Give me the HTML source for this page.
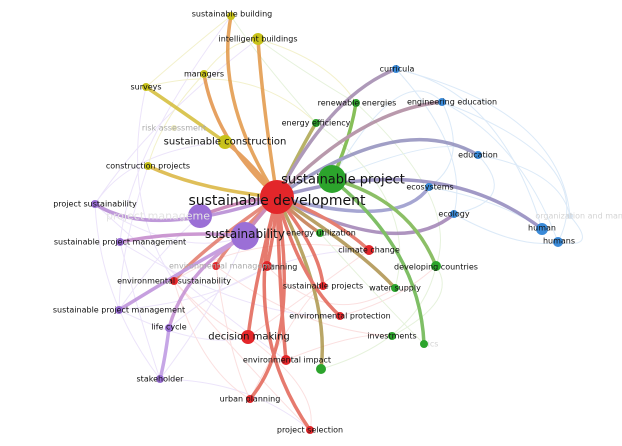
<!DOCTYPE html>
<html><head><meta charset="utf-8"><style>
html,body{margin:0;padding:0;background:#fff;width:622px;height:446px;overflow:hidden}
svg text{font-family:"DejaVu Sans","Liberation Sans",sans-serif;fill:#111;text-anchor:middle;dominant-baseline:central}
</style></head><body>
<svg width="622" height="446" viewBox="0 0 622 446" xmlns="http://www.w3.org/2000/svg">
<g fill="none" stroke-linecap="round">
<!-- faint background web -->
<g stroke="#ece4fa" stroke-width="1">
<path d="M95 204 Q150 120 258 39"/><path d="M120 242 Q130 150 231 16"/><path d="M119 310 Q200 350 248 337"/>
<path d="M160 379 Q250 380 310 430"/><path d="M174 281 Q120 200 146 87"/><path d="M95 204 Q200 300 286 360"/>
<path d="M120 242 Q250 320 340 316"/><path d="M169 328 Q260 250 369 250"/>
<path d="M95 204 Q100 300 160 379"/><path d="M119 310 Q160 250 200 216"/><path d="M120 242 Q140 320 160 379"/>
<path d="M95 204 Q180 260 245 236"/><path d="M119 310 Q220 300 267 266"/><path d="M160 379 Q220 300 245 236"/>
<path d="M148 166 Q120 250 119 310"/><path d="M95 204 Q130 150 225 142"/>
</g>
<g stroke="#dceaf8" stroke-width="1">
<path d="M396 69 Q500 90 542 229"/><path d="M442 102 Q520 140 558 242"/><path d="M478 155 Q560 170 570 216"/>
<path d="M429 187 Q500 200 542 229"/><path d="M454 214 Q520 250 558 242"/><path d="M396 69 Q470 150 454 214"/>
<path d="M442 102 Q470 160 429 187"/><path d="M570 216 Q600 250 558 242"/>
<path d="M396 69 Q560 110 570 216"/><path d="M442 102 Q600 160 558 242"/><path d="M478 155 Q520 200 454 214"/>
<path d="M332 179 Q450 130 478 155"/><path d="M332 179 Q400 60 442 102"/>
</g>
<g stroke="#fbe0e0" stroke-width="1">
<path d="M248 337 Q300 300 369 250"/><path d="M174 281 Q260 380 310 430"/><path d="M216 266 Q300 330 392 336"/>
<path d="M267 266 Q330 330 395 288"/><path d="M250 399 Q300 300 323 286"/><path d="M174 281 Q250 230 369 250"/>
<path d="M216 266 Q230 360 250 399"/><path d="M174 281 Q220 330 248 337"/><path d="M340 316 Q400 300 436 266"/>
<path d="M286 360 Q360 330 392 336"/><path d="M248 337 Q320 390 310 430"/><path d="M174 281 Q200 370 250 399"/>
</g>
<g stroke="#e6f2dc" stroke-width="1">
<path d="M316 123 Q260 60 231 16"/><path d="M356 103 Q300 70 258 39"/><path d="M436 266 Q420 340 321 369"/>
<path d="M392 336 Q460 300 436 266"/><path d="M320 233 Q380 300 424 344"/>
<path d="M356 103 Q460 200 436 266"/><path d="M316 123 Q420 200 395 288"/>
</g>
<g stroke="#f3f1cc" stroke-width="1">
<path d="M146 87 Q200 40 231 16"/><path d="M204 74 Q230 40 258 39"/><path d="M148 166 Q160 120 204 74"/>
<path d="M146 87 Q250 60 316 123"/><path d="M258 39 Q330 60 356 103"/>
</g>

<!-- main edges -->
<g stroke-width="3.5" opacity="0.8">
<path d="M277 197 Q215 100 231 16" stroke="#e0903a"/>
<path d="M277 197 Q262 100 258 39" stroke="#e0903a"/>
<path d="M277 197 Q215 140 204 74" stroke="#e08a3a"/>
<path d="M225 142 Q180 110 146 87" stroke="#d2b82a"/>
<path d="M277 197 Q250 160 225 142" stroke="#e08a3a"/>
<path d="M277 197 Q200 190 148 166" stroke="#d8b030"/>
<path d="M277 197 Q300 150 316 123" stroke="#a7a040"/>
<path d="M332 179 Q350 140 356 103" stroke="#6ab030"/>
<path d="M277 197 Q330 95 396 69" stroke="#9a80a8"/>
<path d="M277 197 Q360 110 442 102" stroke="#a88098"/>
<path d="M277 197 Q400 110 478 155" stroke="#8a88b8"/>
<path d="M277 197 Q440 150 542 229" stroke="#8a80b8"/>
<path d="M277 197 Q400 230 429 187" stroke="#9090c8"/>
<path d="M277 197 Q400 260 454 214" stroke="#9a7ab0"/>
<path d="M332 179 Q410 200 436 266" stroke="#70b040"/>
<path d="M277 197 Q360 250 395 288" stroke="#a88a40"/>
<path d="M332 179 Q420 250 424 344" stroke="#60b040"/>
<path d="M277 197 Q330 300 321 369" stroke="#a89040"/>
<path d="M277 197 Q330 215 369 250" stroke="#e06050"/>
<path d="M277 197 Q300 220 320 233" stroke="#c07040"/>
<path d="M277 197 Q320 250 323 286" stroke="#e05a4a"/>
<path d="M277 197 Q300 280 340 316" stroke="#e05a4a"/>
<path d="M277 197 Q275 230 267 266" stroke="#e05a4a"/>
<path d="M277 197 Q280 300 286 360" stroke="#e05a4a"/>
<path d="M277 197 Q255 280 248 337" stroke="#e05a4a"/>
<path d="M277 197 Q300 340 250 399" stroke="#e05a4a"/>
<path d="M277 197 Q240 330 310 430" stroke="#e05a4a"/>
<path d="M277 197 Q230 240 216 266" stroke="#e07060"/>
<path d="M277 197 Q200 250 174 281" stroke="#e07060"/>
<path d="M277 197 Q240 200 200 216" stroke="#c070a8"/>
<path d="M277 197 Q150 240 95 204" stroke="#b080d0"/>
<path d="M245 236 Q180 230 120 242" stroke="#c080c8"/>
<path d="M245 236 Q200 260 119 310" stroke="#b888d8"/>
<path d="M245 236 Q185 270 169 328" stroke="#c088d0"/>
<path d="M169 328 Q165 360 160 379" stroke="#b890e0"/>
<path d="M277 197 Q255 220 245 236" stroke="#c070a8"/>
</g>
</g>

<!-- nodes -->
<g>
<circle cx="277" cy="197" r="17" fill="#e3262a"/>
<circle cx="332" cy="179" r="14" fill="#2ca42c"/>
<circle cx="200" cy="216" r="12" fill="#9b6fd6"/>
<circle cx="245" cy="236" r="14" fill="#9b6fd6"/>
<circle cx="231" cy="16" r="4" fill="#c8c21a"/>
<circle cx="258" cy="39" r="6" fill="#c8c21a"/>
<circle cx="204" cy="74" r="4" fill="#c8c21a"/>
<circle cx="146" cy="87" r="4" fill="#c8c21a"/>
<circle cx="174" cy="128" r="3" fill="#efecc0"/>
<circle cx="225" cy="142" r="7" fill="#c8c21a"/>
<circle cx="148" cy="166" r="4" fill="#c8c21a"/>
<circle cx="316" cy="123" r="4" fill="#2ca42c"/>
<circle cx="356" cy="103" r="4" fill="#2ca42c"/>
<circle cx="396" cy="69" r="4" fill="#3a8ad8"/>
<circle cx="442" cy="102" r="4" fill="#3a8ad8"/>
<circle cx="478" cy="155" r="4" fill="#3a8ad8"/>
<circle cx="429" cy="187" r="4" fill="#3a8ad8"/>
<circle cx="454" cy="214" r="4" fill="#3a8ad8"/>
<circle cx="542" cy="229" r="6" fill="#3a8ad8"/>
<circle cx="558" cy="242" r="5" fill="#3a8ad8"/>
<circle cx="570" cy="216" r="3" fill="#d8e6f4"/>
<circle cx="320" cy="233" r="4" fill="#2ca42c"/>
<circle cx="369" cy="250" r="5" fill="#e3262a"/>
<circle cx="436" cy="266" r="5" fill="#2ca42c"/>
<circle cx="395" cy="288" r="4" fill="#2ca42c"/>
<circle cx="392" cy="336" r="4" fill="#2ca42c"/>
<circle cx="424" cy="344" r="4" fill="#2ca42c"/>
<circle cx="323" cy="286" r="4" fill="#e3262a"/>
<circle cx="340" cy="316" r="4" fill="#e3262a"/>
<circle cx="267" cy="266" r="5" fill="#e3262a"/>
<circle cx="216" cy="266" r="4" fill="#e3262a"/>
<circle cx="174" cy="281" r="4" fill="#e3262a"/>
<circle cx="248" cy="337" r="7" fill="#e3262a"/>
<circle cx="286" cy="360" r="5" fill="#e3262a"/>
<circle cx="321" cy="369" r="5" fill="#2ca42c"/>
<circle cx="250" cy="399" r="4" fill="#e3262a"/>
<circle cx="310" cy="430" r="4" fill="#e3262a"/>
<circle cx="95" cy="204" r="4" fill="#9b6fd6"/>
<circle cx="120" cy="242" r="4" fill="#9b6fd6"/>
<circle cx="119" cy="310" r="4" fill="#9b6fd6"/>
<circle cx="169" cy="328" r="4" fill="#9b6fd6"/>
<circle cx="160" cy="379" r="4" fill="#9b6fd6"/>
</g>

<!-- labels -->
<g font-size="8">
<text x="232" y="14">sustainable building</text>
<text x="258" y="39">intelligent buildings</text>
<text x="204" y="74">managers</text>
<text x="146" y="87">surveys</text>
<text x="174" y="128" style="fill:#aaa">risk assessment</text>
<text x="148" y="166">construction projects</text>
<text x="316" y="123">energy efficiency</text>
<text x="357" y="103">renewable energies</text>
<text x="397" y="69">curricula</text>
<text x="452" y="102">engineering education</text>
<text x="478" y="155">education</text>
<text x="430" y="187">ecosystems</text>
<text x="454" y="214">ecology</text>
<text x="593" y="216" style="fill:#d4d4d4">organization and manageme</text>
<text x="542" y="228">human</text>
<text x="559" y="241">humans</text>
<text x="321" y="233">energy utilization</text>
<text x="369" y="250">climate change</text>
<text x="436" y="267">developing countries</text>
<text x="395" y="288">water supply</text>
<text x="392" y="336">investments</text>
<text x="433" y="344" style="fill:#d4d4d4">ics</text>
<text x="323" y="286">sustainable projects</text>
<text x="340" y="316">environmental protection</text>
<text x="280" y="267">planning</text>
<text x="222" y="266" style="fill:#aaa">environmental manageme</text>
<text x="174" y="281">environmental sustainability</text>
<text x="287" y="360">environmental impact</text>
<text x="250" y="399">urban planning</text>
<text x="310" y="430">project selection</text>
<text x="95" y="204">project sustainability</text>
<text x="120" y="242">sustainable project management</text>
<text x="119" y="310">sustainable project management</text>
<text x="169" y="327">life cycle</text>
<text x="160" y="379">stakeholder</text>
</g>
<text x="225" y="142" font-size="10">sustainable construction</text>
<text x="249" y="337" font-size="10">decision making</text>
<text x="158" y="216" font-size="11" style="fill:#e4e4e4">project manageme</text>
<text x="245" y="234" font-size="12">sustainability</text>
<text x="343" y="180" font-size="13">sustainable project</text>
<text x="277" y="201" font-size="14">sustainable development</text>
</svg>
</body></html>
